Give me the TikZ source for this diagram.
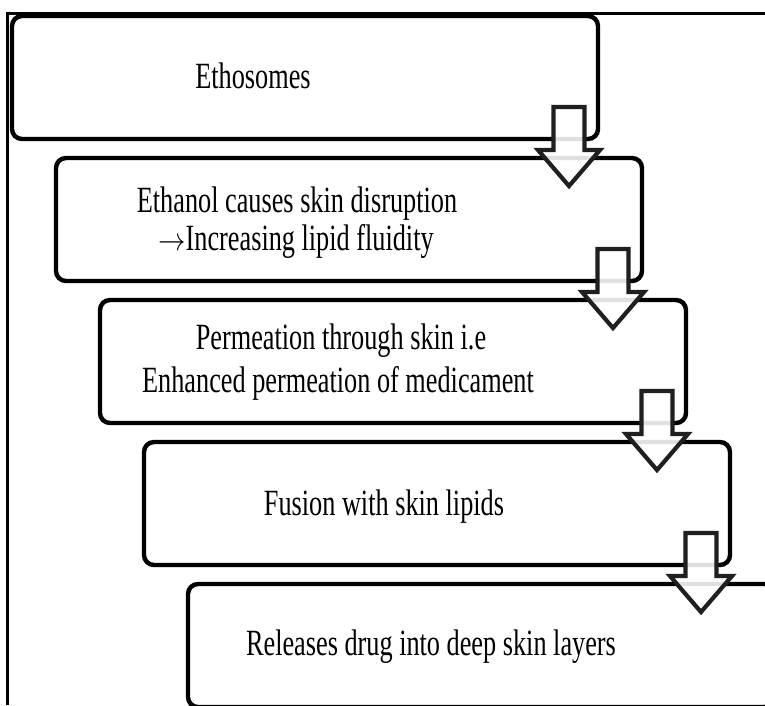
\documentclass[tikz,border=0pt]{standalone}
\usepackage{fontspec}
\newfontfamily\labfont[FakeStretch=0.71]{Liberation Serif}
\usetikzlibrary{calc}
\tikzset{
  stepbox/.style={draw=black, line width=4.4pt, rounded corners=10pt, fill=none,
    minimum width=586pt, minimum height=123pt, inner sep=0pt, outer sep=0pt},
  blockarrow/.style={draw=black!88, line width=4.2pt, fill=white, fill opacity=0.88, line join=miter},
  lab/.style={font=\labfont\fontsize{37}{42}\selectfont, inner sep=0pt, anchor=base},
  frameline/.style={line width=2.5pt, draw=black}
}
\begin{document}
\begin{tikzpicture}[x=1pt,y=-1pt]
\useasboundingbox (0,0) rectangle (765,705);
\clip (0,0) rectangle (765,705);
% outer frame
\coordinate (fA) at (7.7,705);
\coordinate (fB) at (7.7,13.3);
\coordinate (fC) at (766,13.3);
\draw[frameline] (fA) -- (fB) -- (fC);
% boxes
\node[stepbox] (b1) at (305,77.5) {};
\node[stepbox] (b2) at (349,219.5) {};
\node[stepbox] (b3) at (393,361.5) {};
\node[stepbox] (b4) at (437,503.5) {};
\node[stepbox] (b5) at (481,645.5) {};
% arrows
\foreach \b in {b1,b2,b3,b4}{
  \begin{scope}[shift={(\b.south east)}]
    \draw[blockarrow] (-44.5,-32) -- (-13.5,-32) -- (-13.5,11) -- (2,11) -- (-29,47) -- (-60,11) -- (-44.5,11) -- cycle;
  \end{scope}
}
% texts
\node[lab] (t1) at (253,88) {Ethosomes};
\node[lab] (t2a) at (297,212) {Ethanol causes skin disruption};
\node[lab] (t2b) at (296,250) {\scalebox{1.1}[1.3]{$\rightarrow$}Increasing lipid fluidity};
\node[lab] (t3a) at (341,349) {Permeation through skin i.e};
\node[lab] (t3b) at (338,392) {Enhanced permeation of medicament};
\node[lab] (t4) at (384,515) {Fusion with skin lipids};
\node[lab] (t5) at (431,655) {Releases drug into deep skin layers};
\end{tikzpicture}
\end{document}
